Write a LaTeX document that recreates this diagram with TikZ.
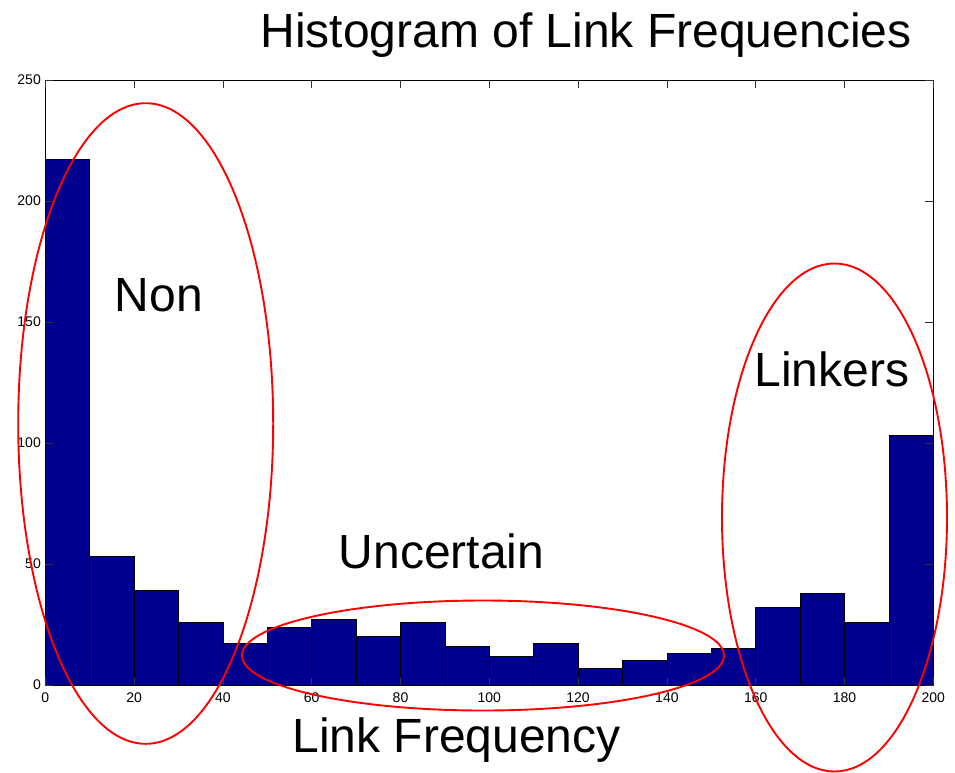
\documentclass[tikz,border=0pt]{standalone}
\usepackage{fontspec}
\setmainfont{Liberation Sans}
\definecolor{barblue}{RGB}{0,0,143}
\begin{document}
\begin{tikzpicture}[x=1pt,y=-1pt,
  bar/.style={fill=barblue,draw=black,line width=0.8pt},
  ring/.style={draw=red,line width=1.9pt},
  axisline/.style={draw=black,line width=0.8pt},
  tickmark/.style={draw=black!80,line width=0.8pt},
  ticklab/.style={font=\fontsize{14}{14}\selectfont,inner sep=0pt},
  biglab/.style={font=\fontsize{48}{48}\selectfont,inner sep=0pt,anchor=base}]
\useasboundingbox (0,0) rectangle (955,772);
% axes geometry: origin, scale per unit on x and y
\def\xo{45.3}
\def\yo{685}
\def\xr{933.3}
\def\yt{80}
\def\sx{4.44}
\def\sy{2.42}
% histogram bars (bin index / count)
\foreach \i/\v in {0/217,1/53,2/39,3/26,4/17,5/24,6/27,7/20,8/26,9/16,
                   10/12,11/17,12/7,13/10,14/13,15/15,16/32,17/38,18/26,19/103}
  \draw[bar] ({\xo+\sx*10*\i},\yo) rectangle ({\xo+\sx*10*(\i+1)},{\yo-\sy*\v});
% frame
\draw[axisline] (\xo,\yt) rectangle (\xr,\yo);
% x ticks and labels
\foreach \t in {0,20,...,200} {
  \draw[tickmark] ({\xo+\sx*\t},\yo) -- ({\xo+\sx*\t},{\yo-8});
  \draw[tickmark] ({\xo+\sx*\t},\yt) -- ({\xo+\sx*\t},{\yt+8});
  \node[ticklab,anchor=base] (xl\t) at ({\xo+\sx*\t},702) {\t};
}
% y ticks and labels
\foreach \t in {0,50,...,250} {
  \draw[tickmark] (\xo,{\yo-\sy*\t}) -- ({\xo+8},{\yo-\sy*\t});
  \draw[tickmark] (\xr,{\yo-\sy*\t}) -- ({\xr-8},{\yo-\sy*\t});
  \node[ticklab,anchor=east] (yl\t) at (41,{\yo-\sy*\t}) {\t};
}
% group outlines
\draw[ring] (145.7,423.5) ellipse [x radius=127.5, y radius=320.3];
\draw[ring] (483,655.5) ellipse [x radius=241, y radius=55];
\draw[ring] (834.5,517.5) ellipse [x radius=112.5, y radius=254];
% titles and group labels
\node[biglab] (title) at (586,47.7) {Histogram of Link Frequencies};
\node[biglab] (non) at (159,311.7) {Non};
\node[biglab] (linkers) at (831.7,386.7) {Linkers};
\node[biglab] (uncertain) at (441.5,568.3) {Uncertain};
\node[biglab] (xlabel) at (456.5,752) {Link Frequency};
\end{tikzpicture}
\end{document}
